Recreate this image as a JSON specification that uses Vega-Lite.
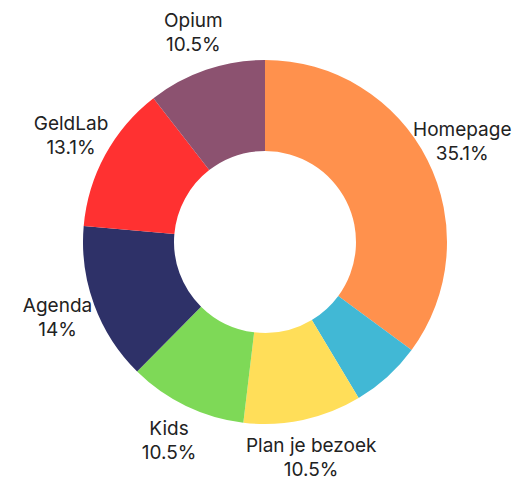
{
  "$schema": "https://vega.github.io/schema/vega-lite/v6.json",
  "width": 522,
  "height": 470,
  "autosize": {"type": "none"},
  "padding": {"left": 4, "top": 7, "right": 0, "bottom": 0},
  "background": "white",
  "view": {"stroke": null},
  "data": {
    "values": [
      {"order": 1, "name": "Homepage", "pct": "35.1%", "value": 35.1},
      {"order": 2, "name": "", "pct": "", "value": 6.3},
      {"order": 3, "name": "Plan je bezoek", "pct": "10.5%", "value": 10.5},
      {"order": 4, "name": "Kids", "pct": "10.5%", "value": 10.5},
      {"order": 5, "name": "Agenda", "pct": "14%", "value": 14},
      {"order": 6, "name": "GeldLab", "pct": "13.1%", "value": 13.1},
      {"order": 7, "name": "Opium", "pct": "10.5%", "value": 10.5}
    ]
  },
  "transform": [
    {"calculate": "datum.name == '' ? '' : [datum.name, datum.pct]", "as": "lbl"}
  ],
  "encoding": {
    "theta": {"field": "value", "type": "quantitative", "stack": true},
    "order": {"field": "order", "type": "quantitative"}
  },
  "layer": [
    {
      "mark": {"type": "arc", "radius": 182, "radius2": 91},
      "encoding": {
        "color": {
          "field": "order",
          "type": "ordinal",
          "legend": null,
          "scale": {
            "domain": [1, 2, 3, 4, 5, 6, 7],
            "range": ["#FF914D", "#41B8D5", "#FFDE59", "#7ED957", "#2E3168", "#FF3131", "#8C5270"]
          }
        }
      }
    },
    {
      "mark": {"type": "text", "radius": 221, "dy": -12, "font": "Inter", "fontSize": 19, "lineHeight": 24, "color": "#222222", "align": "center", "baseline": "middle"},
      "encoding": {
        "text": {"field": "lbl"}
      }
    }
  ]
}
